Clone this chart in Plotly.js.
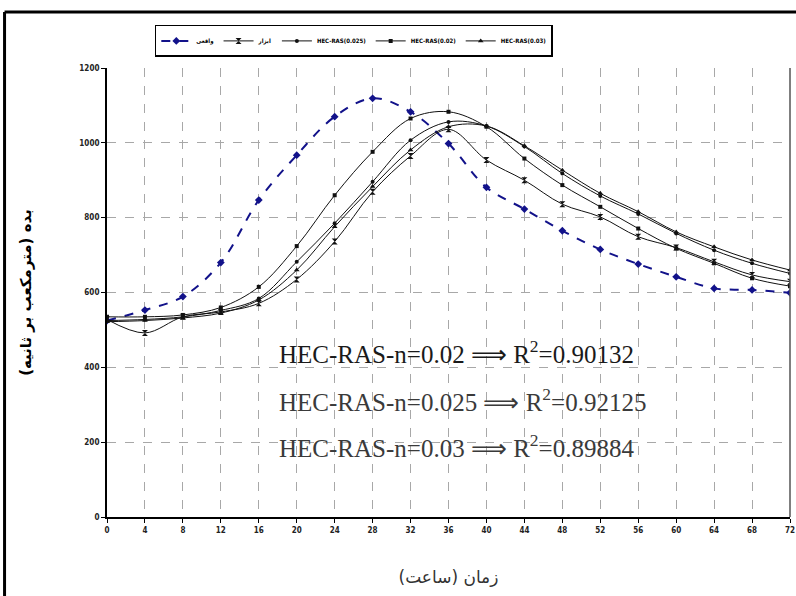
<!DOCTYPE html>
<html>
<head>
<meta charset="utf-8">
<script src="https://cdn.plot.ly/plotly-3.0.1.min.js"></script>
<style>html,body{margin:0;padding:0;background:#fff;}#chart{width:796px;height:596px;}</style>
</head>
<body>
<div id="chart"></div>
<script>
// Hours (x categories)
const hours = [0,4,8,12,16,20,24,28,32,36,40,44,48,52,56,60,64,68,72];
// Observed (blue dashed)
const observed = [525,553,589,680,847,967,1070,1119,1083,998,881,823,765,715,676,642,611,607,599];
// Second model (hourglass markers)
const model2 = [528,492,535,548,571,635,736,869,965,1036,954,900,836,802,749,720,682,647,629];
// HEC-RAS runs
const hec025 = [525,528,535,552,584,682,785,896,1007,1056,1045,990,918,858,810,758,713,678,651];
const hec020 = [535,535,540,560,615,724,860,976,1065,1083,1043,958,887,829,771,718,678,638,617];
const hec030 = [522,525,532,545,580,660,776,883,981,1043,1045,992,927,865,816,762,722,687,660];

const names = ['واقعی','ابزار','HEC-RAS(0.025)','HEC-RAS(0.02)','HEC-RAS(0.03)'];
const xTicks = hours;
const yTicks = [0,200,400,600,800,1000,1200];
const notes = ['HEC-RAS-n=0.02 ⟹ R<sup>2</sup>=0.90132','HEC-RAS-n=0.025 ⟹ R<sup>2</sup>=0.92125','HEC-RAS-n=0.03 ⟹ R<sup>2</sup>=0.89884'];
const noteY = [441, 313, 190];

const blk = '#111';
const traces = [
  {x:hours,y:observed,name:names[0],mode:'lines+markers',line:{color:'#12128a',width:2,dash:'dash',shape:'spline'},marker:{symbol:'diamond',size:6,color:'#12128a'}},
  {x:hours,y:model2,name:names[1],mode:'lines+markers',line:{color:blk,width:1,shape:'spline'},marker:{symbol:'hourglass',size:6,color:blk}},
  {x:hours,y:hec025,name:names[2],mode:'lines+markers',line:{color:blk,width:1,shape:'spline'},marker:{symbol:'circle',size:4,color:blk}},
  {x:hours,y:hec020,name:names[3],mode:'lines+markers',line:{color:blk,width:1,shape:'spline'},marker:{symbol:'square',size:4,color:blk}},
  {x:hours,y:hec030,name:names[4],mode:'lines+markers',line:{color:blk,width:1,shape:'spline'},marker:{symbol:'triangle-up',size:5,color:blk}}
];

const annotations = notes.map((t,i)=>({xref:'paper',yref:'y',x:0.249,y:noteY[i],xanchor:'left',yanchor:'middle',text:t,showarrow:false,
  font:{family:'Liberation Serif, Times New Roman, serif',size:25,color:i===0?'#1a1a1a':'#3a3a3a'}}));

const layout = {
  width:796,height:596,
  margin:{l:107,r:6,t:68,b:79},
  paper_bgcolor:'#fff',plot_bgcolor:'#fff',
  font:{family:'DejaVu Sans Condensed, Liberation Sans Narrow, Arial, sans-serif',color:'#000'},
  showlegend:true,
  legend:{orientation:'h',x:0.07,y:1.096,xanchor:'left',yanchor:'top',bgcolor:'#fff',bordercolor:'#000',borderwidth:1.5,
    font:{size:6,family:'DejaVu Sans Condensed, Liberation Sans Narrow, Arial, sans-serif',weight:'bold'},itemwidth:30,tracegroupgap:0},
  xaxis:{range:[0,72],tickvals:xTicks,ticktext:xTicks.map(String),ticks:'outside',ticklen:4,tickcolor:'#000',
    showline:true,linecolor:'#000',linewidth:2,zeroline:false,
    showgrid:true,gridcolor:'#a8a8a8',griddash:'dash',gridwidth:1,
    tickfont:{size:8,family:'DejaVu Sans Condensed, Arial, sans-serif',weight:'bold',color:'#222'},
    title:{text:'زمان (ساعت)',font:{size:17,family:'DejaVu Sans, Noto Sans, sans-serif',color:'#333'},standoff:38}},
  yaxis:{range:[0,1200],tickvals:yTicks,ticktext:yTicks.map(String),ticks:'outside',ticklen:4,tickcolor:'#000',
    showline:true,linecolor:'#000',linewidth:2,zeroline:false,
    showgrid:true,gridcolor:'#a8a8a8',griddash:'dash',gridwidth:1,
    tickfont:{size:8,family:'DejaVu Sans Condensed, Arial, sans-serif',weight:'bold',color:'#222'},
    title:{text:'<b>بده (مترمکعب بر ثانیه)</b>',font:{size:15,family:'DejaVu Sans, Noto Sans, sans-serif',color:'#000'},standoff:44}},
  annotations:annotations,
  shapes:[
    {type:'line',xref:'paper',yref:'paper',x0:1,x1:1,y0:0,y1:1,line:{color:'#555',width:1.5}},
    {type:'line',xref:'paper',yref:'paper',x0:-0.150,x1:1.01,y0:1.1247,y1:1.1247,line:{color:'#000',width:3}},
    {type:'line',xref:'paper',yref:'paper',x0:-0.150,x1:-0.150,y0:-0.18,y1:1.1247,line:{color:'#000',width:3}}
  ]
};
Plotly.newPlot('chart',traces,layout,{displayModeBar:false,staticPlot:true});
</script>
</body>
</html>
